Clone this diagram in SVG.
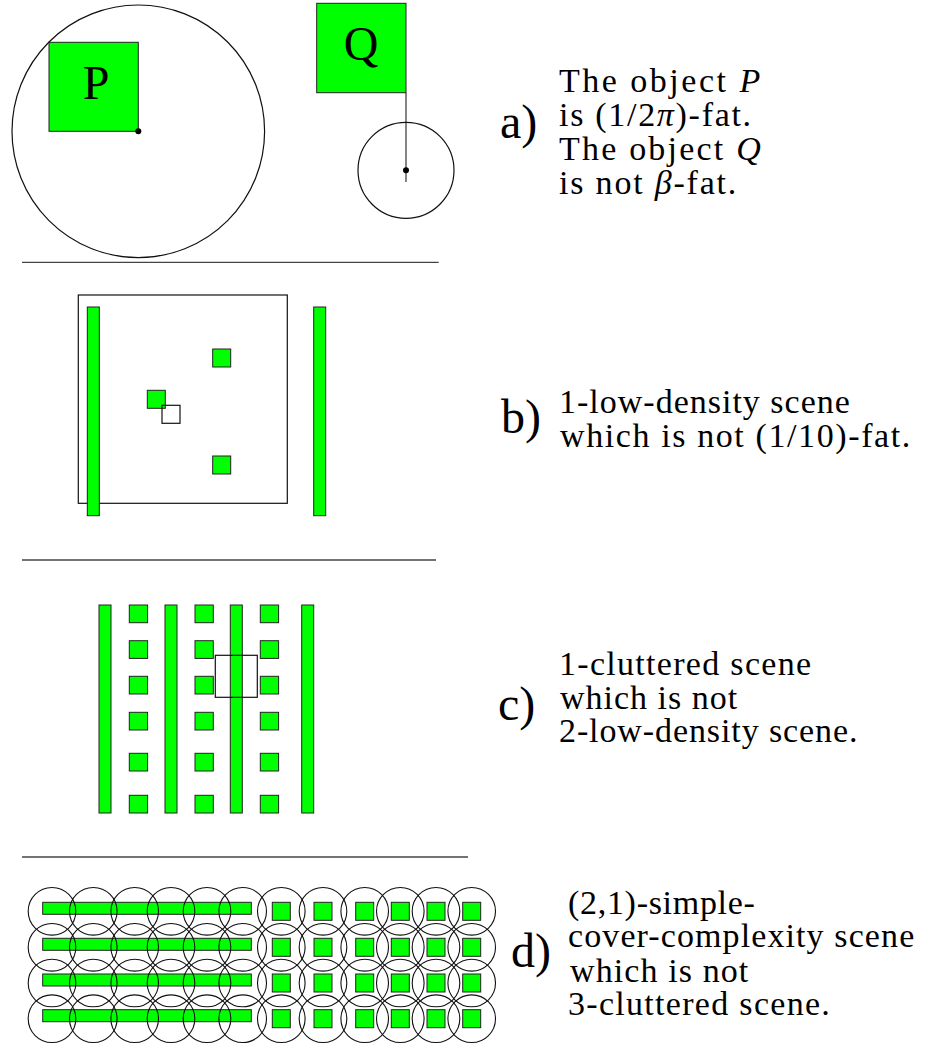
<svg xmlns="http://www.w3.org/2000/svg" width="935" height="1046" viewBox="0 0 935 1046">
<style>
.g{fill:#00ff00;stroke:#222;stroke-width:1}
.o{fill:none;stroke:#111;stroke-width:1.2}
.c{fill:none;stroke:#111;stroke-width:1.1}
.sep{stroke:#444;stroke-width:1.3}
text{font-family:'Liberation Serif','DejaVu Serif',serif;fill:#000}
.t{font-size:34px}
.lb{font-size:48px}
.i{font-style:italic}
</style>
<rect width="935" height="1046" fill="#fff"/>
<g id="panel-a">
  <g id="node-P">
    <rect class="g" x="49" y="42.3" width="89.3" height="89"/>
    <circle class="o" cx="138.3" cy="131.3" r="126.3"/>
    <circle cx="138.3" cy="131.3" r="3" fill="#000"/>
    <text class="lb" x="96" y="99" text-anchor="middle">P</text>
  </g>
  <g id="node-Q">
    <rect class="g" x="316.7" y="3.3" width="89.3" height="89.4"/>
    <line x1="406" y1="92.7" x2="406" y2="182" stroke="#333" stroke-width="1.2"/>
    <circle class="o" cx="406" cy="170.3" r="48"/>
    <circle cx="406" cy="170.3" r="3" fill="#000"/>
    <text class="lb" x="361" y="60" text-anchor="middle">Q</text>
  </g>
  <g id="text-a">
    <text class="lb" x="500" y="138">a)</text>
    <text class="t" x="559" y="92" style="letter-spacing:2.5px">The object <tspan class="i">P</tspan></text>
    <text class="t" x="559" y="126" style="letter-spacing:1.7px">is (1/2<tspan class="i">π</tspan>)-fat.</text>
    <text class="t" x="559" y="160" style="letter-spacing:2.2px">The object <tspan class="i">Q</tspan></text>
    <text class="t" x="559" y="194" style="letter-spacing:1.8px">is not <tspan class="i">β</tspan>-fat.</text>
  </g>
</g>
<g id="separators">
  <line class="sep" x1="22" y1="262.3" x2="438.7" y2="262.3"/>
  <line class="sep" x1="22" y1="560" x2="436" y2="560"/>
  <line class="sep" x1="22" y1="857" x2="468" y2="857"/>
</g>
<g id="panel-b">
  <rect class="o" x="78.3" y="295" width="209" height="208.3"/>
  <rect class="g" x="87.3" y="307" width="12" height="208.7"/>
  <rect class="g" x="313.7" y="307" width="12" height="208.7"/>
  <rect class="g" x="212.7" y="349" width="18" height="18"/>
  <rect class="g" x="212.7" y="456" width="18" height="18"/>
  <rect class="g" x="147.3" y="390.3" width="18" height="18"/>
  <rect class="o" x="162" y="405.3" width="18" height="18"/>
  <g id="text-b">
    <text class="lb" x="501" y="433">b)</text>
    <text class="t" x="559" y="413" style="letter-spacing:1px">1-low-density scene</text>
    <text class="t" x="560" y="447" style="letter-spacing:1.6px">which is not (1/10)-fat.</text>
  </g>
</g>
<g id="panel-c">
  <g id="bars-c">
    <rect class="g" x="99" y="605" width="12" height="208"/>
    <rect class="g" x="165" y="605" width="12" height="208"/>
    <rect class="g" x="230.3" y="605" width="12" height="208"/>
    <rect class="g" x="301.7" y="605" width="12" height="208"/>
  </g>
  <g id="squares-c">
    <rect class="g" x="129.3" y="605" width="18.3" height="17.7"/>
    <rect class="g" x="129.3" y="640.7" width="18.3" height="17.7"/>
    <rect class="g" x="129.3" y="676.3" width="18.3" height="17.7"/>
    <rect class="g" x="129.3" y="712.3" width="18.3" height="17.7"/>
    <rect class="g" x="129.3" y="753.3" width="18.3" height="17.7"/>
    <rect class="g" x="129.3" y="795.3" width="18.3" height="17.7"/>
    <rect class="g" x="195" y="605" width="18.3" height="17.7"/>
    <rect class="g" x="195" y="640.7" width="18.3" height="17.7"/>
    <rect class="g" x="195" y="676.3" width="18.3" height="17.7"/>
    <rect class="g" x="195" y="712.3" width="18.3" height="17.7"/>
    <rect class="g" x="195" y="753.3" width="18.3" height="17.7"/>
    <rect class="g" x="195" y="795.3" width="18.3" height="17.7"/>
    <rect class="g" x="260.3" y="605" width="18.3" height="17.7"/>
    <rect class="g" x="260.3" y="640.7" width="18.3" height="17.7"/>
    <rect class="g" x="260.3" y="676.3" width="18.3" height="17.7"/>
    <rect class="g" x="260.3" y="712.3" width="18.3" height="17.7"/>
    <rect class="g" x="260.3" y="753.3" width="18.3" height="17.7"/>
    <rect class="g" x="260.3" y="795.3" width="18.3" height="17.7"/>
  </g>
  <rect class="o" x="215.3" y="655.3" width="42" height="42"/>
  <g id="text-c">
    <text class="lb" x="498" y="720">c)</text>
    <text class="t" x="559" y="675" style="letter-spacing:1.3px">1-cluttered scene</text>
    <text class="t" x="560" y="708.5" style="letter-spacing:1px">which is not</text>
    <text class="t" x="559" y="742" style="letter-spacing:0.9px">2-low-density scene.</text>
  </g>
</g>
<g id="panel-d">
  <g id="bars-d">
    <rect class="g" x="42.7" y="902.3" width="208.6" height="12"/>
    <rect class="g" x="42.7" y="938.3" width="208.6" height="12"/>
    <rect class="g" x="42.7" y="974" width="208.6" height="12"/>
    <rect class="g" x="42.7" y="1009.7" width="208.6" height="12"/>
  </g>
  <g id="squares-d">
    <rect class="g" x="272.3" y="902.3" width="18" height="18"/><rect class="g" x="314" y="902.3" width="18" height="18"/><rect class="g" x="355.7" y="902.3" width="18" height="18"/><rect class="g" x="391.3" y="902.3" width="18" height="18"/><rect class="g" x="427" y="902.3" width="18" height="18"/><rect class="g" x="462.7" y="902.3" width="18" height="18"/>
    <rect class="g" x="272.3" y="938.3" width="18" height="18"/><rect class="g" x="314" y="938.3" width="18" height="18"/><rect class="g" x="355.7" y="938.3" width="18" height="18"/><rect class="g" x="391.3" y="938.3" width="18" height="18"/><rect class="g" x="427" y="938.3" width="18" height="18"/><rect class="g" x="462.7" y="938.3" width="18" height="18"/>
    <rect class="g" x="272.3" y="974" width="18" height="18"/><rect class="g" x="314" y="974" width="18" height="18"/><rect class="g" x="355.7" y="974" width="18" height="18"/><rect class="g" x="391.3" y="974" width="18" height="18"/><rect class="g" x="427" y="974" width="18" height="18"/><rect class="g" x="462.7" y="974" width="18" height="18"/>
    <rect class="g" x="272.3" y="1009.7" width="18" height="18"/><rect class="g" x="314" y="1009.7" width="18" height="18"/><rect class="g" x="355.7" y="1009.7" width="18" height="18"/><rect class="g" x="391.3" y="1009.7" width="18" height="18"/><rect class="g" x="427" y="1009.7" width="18" height="18"/><rect class="g" x="462.7" y="1009.7" width="18" height="18"/>
  </g>
  <g id="circles-d">
    <g id="crow1">
      <circle class="c" cx="52" cy="911.3" r="23.8"/><circle class="c" cx="93.3" cy="911.3" r="23.8"/><circle class="c" cx="134.7" cy="911.3" r="23.8"/><circle class="c" cx="171" cy="911.3" r="23.8"/><circle class="c" cx="207" cy="911.3" r="23.8"/><circle class="c" cx="242.7" cy="911.3" r="23.8"/><circle class="c" cx="281.3" cy="911.3" r="23.8"/><circle class="c" cx="323" cy="911.3" r="23.8"/><circle class="c" cx="364.7" cy="911.3" r="23.8"/><circle class="c" cx="400.3" cy="911.3" r="23.8"/><circle class="c" cx="436" cy="911.3" r="23.8"/><circle class="c" cx="471.7" cy="911.3" r="23.8"/>
    </g>
    <g id="crow2">
      <circle class="c" cx="52" cy="947.3" r="23.8"/><circle class="c" cx="93.3" cy="947.3" r="23.8"/><circle class="c" cx="134.7" cy="947.3" r="23.8"/><circle class="c" cx="171" cy="947.3" r="23.8"/><circle class="c" cx="207" cy="947.3" r="23.8"/><circle class="c" cx="242.7" cy="947.3" r="23.8"/><circle class="c" cx="281.3" cy="947.3" r="23.8"/><circle class="c" cx="323" cy="947.3" r="23.8"/><circle class="c" cx="364.7" cy="947.3" r="23.8"/><circle class="c" cx="400.3" cy="947.3" r="23.8"/><circle class="c" cx="436" cy="947.3" r="23.8"/><circle class="c" cx="471.7" cy="947.3" r="23.8"/>
    </g>
    <g id="crow3">
      <circle class="c" cx="52" cy="983" r="23.8"/><circle class="c" cx="93.3" cy="983" r="23.8"/><circle class="c" cx="134.7" cy="983" r="23.8"/><circle class="c" cx="171" cy="983" r="23.8"/><circle class="c" cx="207" cy="983" r="23.8"/><circle class="c" cx="242.7" cy="983" r="23.8"/><circle class="c" cx="281.3" cy="983" r="23.8"/><circle class="c" cx="323" cy="983" r="23.8"/><circle class="c" cx="364.7" cy="983" r="23.8"/><circle class="c" cx="400.3" cy="983" r="23.8"/><circle class="c" cx="436" cy="983" r="23.8"/><circle class="c" cx="471.7" cy="983" r="23.8"/>
    </g>
    <g id="crow4">
      <circle class="c" cx="52" cy="1018.7" r="23.8"/><circle class="c" cx="93.3" cy="1018.7" r="23.8"/><circle class="c" cx="134.7" cy="1018.7" r="23.8"/><circle class="c" cx="171" cy="1018.7" r="23.8"/><circle class="c" cx="207" cy="1018.7" r="23.8"/><circle class="c" cx="242.7" cy="1018.7" r="23.8"/><circle class="c" cx="281.3" cy="1018.7" r="23.8"/><circle class="c" cx="323" cy="1018.7" r="23.8"/><circle class="c" cx="364.7" cy="1018.7" r="23.8"/><circle class="c" cx="400.3" cy="1018.7" r="23.8"/><circle class="c" cx="436" cy="1018.7" r="23.8"/><circle class="c" cx="471.7" cy="1018.7" r="23.8"/>
    </g>
  </g>
  <g id="text-d">
    <text class="lb" x="511" y="967">d)</text>
    <text class="t" x="568" y="914" style="letter-spacing:0.7px">(2,1)-simple-</text>
    <text class="t" x="568" y="947" style="letter-spacing:1.1px">cover-complexity scene</text>
    <text class="t" x="570" y="981.5" style="letter-spacing:1.1px">which is not</text>
    <text class="t" x="568" y="1015" style="letter-spacing:1.3px">3-cluttered scene.</text>
  </g>
</g>
</svg>
